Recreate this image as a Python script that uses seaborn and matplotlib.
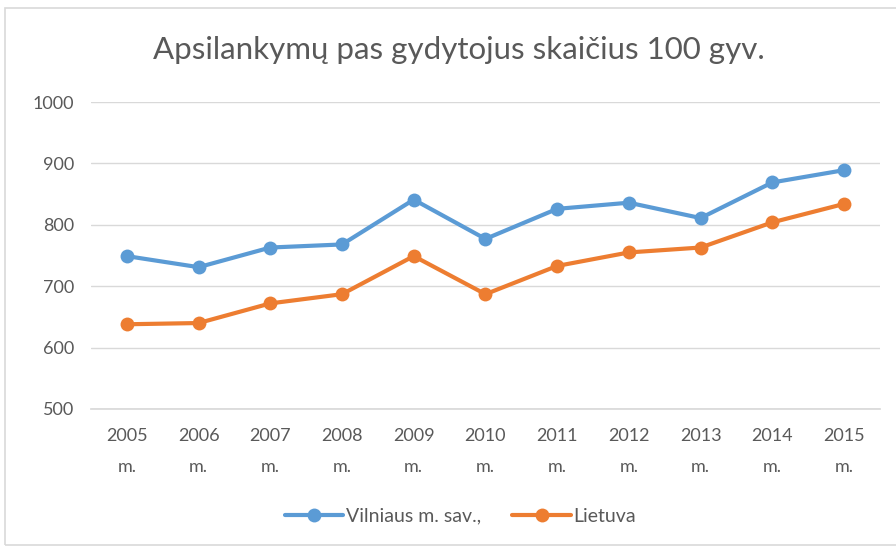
import pandas as pd
import matplotlib
matplotlib.use("Agg")
import matplotlib.pyplot as plt
import seaborn as sns
from matplotlib.patches import Rectangle

# data
years = ["2005", "2006", "2007", "2008", "2009", "2010",
         "2011", "2012", "2013", "2014", "2015"]
vilnius = [749, 731, 763, 768, 841, 777, 826, 836, 811, 869, 889]
lietuva = [638, 640, 672, 687, 749, 687, 733, 755, 763, 804, 834]
series_names = ["Vilniaus m. sav.,", "Lietuva"]
colors = ["#5B9BD5", "#ED7D31"]

df = pd.DataFrame({
    "idx": list(range(len(years))) * 2,
    "value": vilnius + lietuva,
    "series": [series_names[0]] * len(years) + [series_names[1]] * len(years),
})

sns.set_theme(style="white")
plt.rcParams["font.family"] = ["Lato", "DejaVu Sans"]
text_color = "#595959"

fig = plt.figure(figsize=(8.96, 5.47), dpi=100)
ax = fig.add_axes([0.1016, 0.2523, 0.8804, 0.5612])

sns.lineplot(data=df, x="idx", y="value", hue="series", palette=colors,
             marker="o", markersize=10, markeredgewidth=0, linewidth=3,
             ax=ax, legend=False)

ax.set_xlim(-0.5, len(years) - 0.5)
ax.set_ylim(500, 1000)
ax.set_yticks(range(500, 1001, 100))
ax.set_xticks(range(len(years)))
ax.set_xticklabels([y + "\nm." for y in years], linespacing=2.1)
ax.tick_params(axis="both", colors=text_color, labelsize=13, length=0)
ax.tick_params(axis="x", pad=14)
ax.tick_params(axis="y", pad=12)
ax.set_xlabel("")
ax.set_ylabel("")
ax.grid(axis="y", color="#d9d9d9", linewidth=1)
ax.set_axisbelow(True)
for side in ["top", "right", "left"]:
    ax.spines[side].set_visible(False)
ax.spines["bottom"].set_color("#d9d9d9")

fig.text(0.512, 1 - 50 / 547, "Apsilankymų pas gydytojus skaičius 100 gyv.",
         ha="center", va="center", fontsize=22.5, color=text_color)

handles = [plt.Line2D([], [], color=c, linewidth=3, marker="o", markersize=10,
                      markeredgewidth=0) for c in colors]
fig.legend(handles, series_names, loc="center", ncol=2, frameon=False,
           bbox_to_anchor=(0.514, 1 - 516 / 547), fontsize=14,
           labelcolor=text_color, handlelength=3.0, handletextpad=0.15,
           columnspacing=1.6)

# light chart border
fig.patches.append(Rectangle((5 / 896, 2 / 547), 1.2, 1 - 10 / 547,
                             transform=fig.transFigure, fill=False,
                             edgecolor="#d9d9d9", linewidth=1.2))

fig.savefig("out.png", dpi=100, facecolor="white")
